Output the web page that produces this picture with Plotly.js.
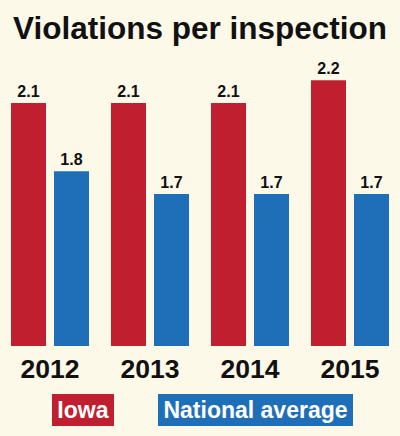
<!DOCTYPE html>
<html>
<head>
<meta charset="utf-8">
<script src="https://cdn.plot.ly/plotly-3.0.1.min.js"></script>
<style>
html,body{margin:0;padding:0;background:#fdf9e8;}
#chart{width:400px;height:436px;}
</style>
</head>
<body>
<div id="chart"></div>
<script>
const years = ['2012', '2013', '2014', '2015'];
const iowa = [2.1, 2.1, 2.1, 2.2];
const national = [1.8, 1.7, 1.7, 1.7];
const seriesNames = ['Iowa', 'National average'];
const seriesColors = ['#c01f2f', '#1f6fb8'];
const titleText = 'Violations per inspection';

const labelFont = {family: 'Liberation Sans, Arial, sans-serif', size: 16, color: '#111', weight: 'bold'};

const traces = [iowa, national].map((vals, i) => ({
  type: 'bar',
  x: years,
  y: vals,
  name: seriesNames[i],
  marker: {color: seriesColors[i]},
  texttemplate: '%{y:.1f}',
  textposition: 'outside',
  textfont: labelFont,
  cliponaxis: false,
  hoverinfo: 'none'
}));

const legendBoxes = [
  {cx: 82.5, w: 62},
  {cx: 255.7, w: 195}
];

const layout = {
  width: 400,
  height: 436,
  paper_bgcolor: '#fdf9e8',
  plot_bgcolor: '#fdf9e8',
  showlegend: false,
  margin: {l: 0, r: 0, t: 0, b: 90},
  barmode: 'group',
  bargap: 0.14,
  bargroupgap: 0.186,
  title: {
    text: titleText,
    font: {family: 'Liberation Sans, Arial, sans-serif', size: 31.5, color: '#111', weight: 'bold'},
    x: 0.5, xanchor: 'center', xref: 'container',
    y: 1 - 28/436, yanchor: 'middle', yref: 'container'
  },
  xaxis: {
    type: 'category',
    range: [-0.5, 3.5],
    showgrid: false, zeroline: false, showline: false, ticks: '',
    ticklabelstandoff: 4,
    tickfont: {family: 'Liberation Sans, Arial, sans-serif', size: 26.5, color: '#111', weight: 'bold'},
    fixedrange: true
  },
  yaxis: {
    range: [1.032, 2.553],
    visible: false,
    showgrid: false, zeroline: false,
    fixedrange: true
  },
  annotations: seriesNames.map((n, i) => ({
    text: n,
    xref: 'paper', yref: 'paper',
    x: legendBoxes[i].cx / 400, y: (346 - 410) / 346,
    xanchor: 'center', yanchor: 'middle',
    showarrow: false,
    bgcolor: seriesColors[i],
    borderpad: 0, borderwidth: 0,
    width: legendBoxes[i].w, height: 32,
    font: {family: 'Liberation Sans, Arial, sans-serif', size: 23, color: '#ffffff', weight: 'bold'}
  }))
};

Plotly.newPlot('chart', traces, layout, {staticPlot: true, displayModeBar: false});
</script>
</body>
</html>
